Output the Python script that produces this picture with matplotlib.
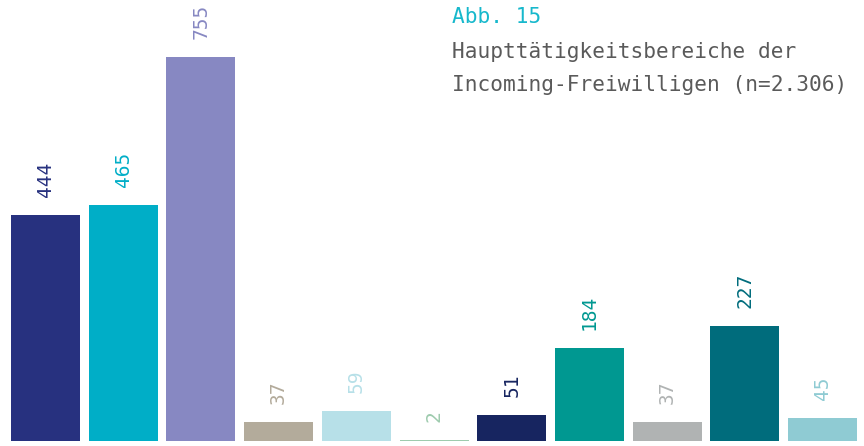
import matplotlib
matplotlib.use("Agg")
import matplotlib.pyplot as plt
from matplotlib import font_manager

# Haupttätigkeitsbereiche der Incoming-Freiwilligen
values = [444, 465, 755, 37, 59, 2, 51, 184, 37, 227, 45]
colors = ['#27317f', '#00aec7', '#8788c2', '#b3ab9b', '#b7e0e8', '#9ecbae',
          '#172560', '#009891', '#b0b3b3', '#006c7c', '#8fcbd3']

# narrow font for the value labels if available
try:
    font_manager.findfont('Liberation Sans Narrow', fallback_to_default=False)
    label_font, label_size = 'Liberation Sans Narrow', 16.8
except ValueError:
    label_font, label_size = 'DejaVu Sans Mono', 14

fig = plt.figure(figsize=(8.64, 4.46), dpi=100)
ax = fig.add_axes([0, 0, 1, 1])

x = range(len(values))
ax.bar(x, values, width=0.888, color=colors)

# value labels, rotated and coloured like the bar
for xi, v, c in zip(x, values, colors):
    ax.annotate(str(v), (xi, v), xytext=(0, 18), textcoords='offset pixels',
                rotation=90, ha='center', va='bottom', color=c,
                fontsize=label_size, family=label_font)

ax.set_xlim(-0.5856, 10.534)
ax.set_ylim(-9.8, 868)
ax.axis('off')

fig.text(452 / 864, 1 - 17 / 446, 'Abb. 15', color='#17b8cc',
         fontsize=15.2, family='DejaVu Sans Mono', va='center', ha='left')
fig.text(452 / 864, 1 - 52 / 446, 'Haupttätigkeitsbereiche der', color='#5a5a5a',
         fontsize=15.2, family='DejaVu Sans Mono', va='center', ha='left')
fig.text(452 / 864, 1 - 85 / 446, 'Incoming-Freiwilligen (n=2.306)', color='#5a5a5a',
         fontsize=15.2, family='DejaVu Sans Mono', va='center', ha='left')

fig.savefig('out.png', dpi=100)
